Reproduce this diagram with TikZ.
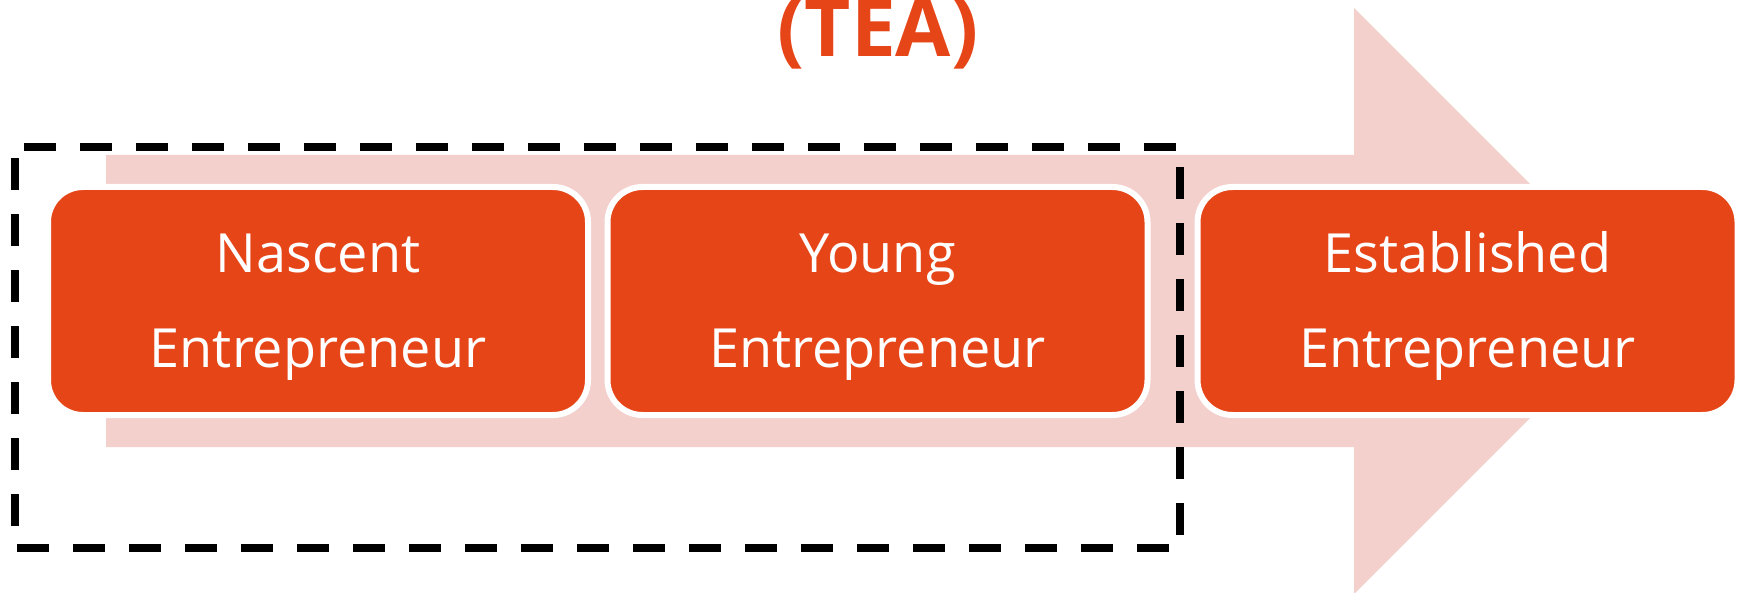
\documentclass[tikz,border=0pt]{standalone}
\usepackage{fontspec}
\setmainfont{Open Sans}
\usetikzlibrary{calc}
\definecolor{boxorange}{HTML}{E64518}
\definecolor{arrowpink}{HTML}{F4D0CD}
\begin{document}
\begin{tikzpicture}[x=1pt,y=-1pt,
  stagebox/.style={draw=white, line width=6pt, fill=boxorange, rounded corners=35pt,
    minimum width=540pt, minimum height=228pt, inner sep=0pt, outer sep=0pt},
  stagetext/.style={text=white, anchor=base, inner sep=0pt, font=\fontsize{54}{60}\selectfont},
  tealine/.style={draw=black, line width=8pt, dash pattern=on 32pt off 24pt, dash phase=47pt},
  titletext/.style={text=boxorange, anchor=base, inner sep=0pt, font=\fontsize{80}{90}\selectfont\bfseries}
]
\useasboundingbox (0,0) rectangle (1745,593);
\clip (0,0) rectangle (1745,593);
% title (cut at top)
\node[titletext] (title) at (878,57) {(TEA)};
% big background arrow
\fill[arrowpink] (106,155) -- (1354,155) -- (1354,8) -- (1647,301) -- (1354,594) -- (1354,447) -- (106,447) -- cycle;
% stage boxes
\node[stagebox] (nascent) at (318,301) {};
\node[stagebox] (young) at (877.5,301) {};
\node[stagebox] (established) at (1467.5,301) {};
\node[stagetext] (nascentA) at ($(nascent.center)+(0,-28)$) {Nascent};
\node[stagetext] (nascentB) at ($(nascent.center)+(0,67)$) {Entrepreneur};
\node[stagetext] (youngA) at ($(young.center)+(0,-28)$) {Young};
\node[stagetext] (youngB) at ($(young.center)+(0,67)$) {Entrepreneur};
\node[stagetext] (establishedA) at ($(established.center)+(0,-28)$) {Established};
\node[stagetext] (establishedB) at ($(established.center)+(0,67)$) {Entrepreneur};
% dashed TEA frame
\draw[tealine] (15,147) -- (1180,147) -- (1180,548) -- (15,548) -- cycle;
\end{tikzpicture}
\end{document}
